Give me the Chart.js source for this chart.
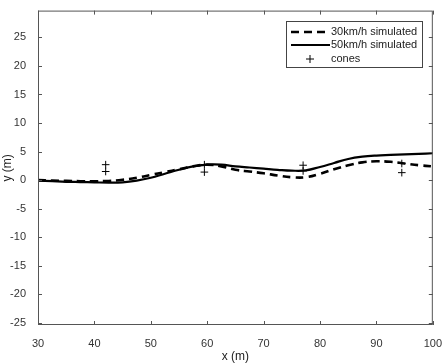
<!DOCTYPE html>
<html>
<head>
<meta charset="utf-8">
<script src="https://cdn.jsdelivr.net/npm/chart.js@4.4.1/dist/chart.umd.min.js"></script>
<style>
  html, body { margin: 0; padding: 0; background: #fff; }
  #wrap { width: 446px; height: 364px; }
</style>
</head>
<body>
<div id="wrap"><canvas id="pathChart" width="446" height="364"></canvas></div>
<script>
const xValues = [30, 32.5, 35, 37.5, 40, 42.5, 45, 47.5, 50, 52.5, 55, 57.5, 60, 62.5, 65,
  67.5, 70, 72.5, 75, 77.5, 80, 82.5, 85, 87.5, 90, 92.5, 95, 97.5, 100];
const sim30 = [0, -0.1, -0.15, -0.2, -0.2, -0.15, 0.05, 0.4, 0.9, 1.4, 1.9, 2.4, 2.7, 2.4, 1.8,
  1.5, 1.2, 0.8, 0.5, 0.5, 1.1, 1.9, 2.6, 3.1, 3.3, 3.2, 2.9, 2.6, 2.4];
const sim50 = [-0.1, -0.2, -0.3, -0.35, -0.4, -0.45, -0.4, -0.1, 0.4, 1.1, 1.8, 2.4, 2.7, 2.7, 2.4,
  2.2, 2.0, 1.8, 1.65, 1.7, 2.3, 3.0, 3.7, 4.1, 4.3, 4.4, 4.5, 4.6, 4.7];
const coneX = [42, 42, 59.5, 59.5, 77, 77, 94.5, 94.5];
const coneY = [2.7, 1.5, 2.7, 1.4, 2.6, 1.6, 2.9, 1.3];
const xTicks = [30, 40, 50, 60, 70, 80, 90, 100];
const yTicks = [-25, -20, -15, -10, -5, 0, 5, 10, 15, 20, 25];

const FONT = "'Liberation Sans', Arial, sans-serif";

function toPoints(xs, ys) {
  return xs.map((x, i) => ({ x: x, y: ys[i] }));
}

// box, inward tick marks and the boxed legend, drawn like the original figure
const frameAndLegend = {
  id: "frameAndLegend",
  afterDraw(chart) {
    const ctx = chart.ctx;
    const a = chart.chartArea;
    const xs = chart.scales.x;
    const ys = chart.scales.y;
    ctx.save();
    ctx.strokeStyle = "#555";
    ctx.lineWidth = 1;
    ctx.strokeRect(a.left + 0.5, a.top + 0.5, a.right - a.left - 1, a.bottom - a.top - 1);
    ctx.beginPath();
    xTicks.forEach((v) => {
      const px = Math.round(xs.getPixelForValue(v)) + 0.5;
      ctx.moveTo(px, a.bottom); ctx.lineTo(px, a.bottom - 4);
      ctx.moveTo(px, a.top); ctx.lineTo(px, a.top + 4);
    });
    yTicks.forEach((v) => {
      const py = Math.round(ys.getPixelForValue(v)) + 0.5;
      ctx.moveTo(a.left, py); ctx.lineTo(a.left + 4, py);
      ctx.moveTo(a.right, py); ctx.lineTo(a.right - 4, py);
    });
    ctx.stroke();

    // legend
    const bx = 286, by = 21, bw = 136, bh = 46;
    ctx.fillStyle = "#fff";
    ctx.fillRect(bx, by, bw, bh);
    ctx.strokeStyle = "#444";
    ctx.strokeRect(bx + 0.5, by + 0.5, bw, bh);
    const rows = [32, 45, 59];
    chart.data.datasets.forEach((ds, i) => {
      const y = rows[i];
      ctx.strokeStyle = "#000";
      if (ds.showLine === false) {
        ctx.lineWidth = 1;
        ctx.setLineDash([]);
        ctx.beginPath();
        ctx.moveTo(306, y); ctx.lineTo(314, y);
        ctx.moveTo(310, y - 4); ctx.lineTo(310, y + 4);
        ctx.stroke();
      } else {
        ctx.lineWidth = ds.borderWidth;
        ctx.setLineDash(ds.borderDash || []);
        ctx.beginPath();
        ctx.moveTo(291, y); ctx.lineTo(330, y);
        ctx.stroke();
      }
      ctx.setLineDash([]);
      ctx.fillStyle = "#222";
      ctx.font = "11px " + FONT;
      ctx.textBaseline = "middle";
      ctx.textAlign = "left";
      ctx.fillText(ds.label, 331, y);
    });
    ctx.restore();
  }
};

new Chart(document.getElementById("pathChart"), {
  type: "line",
  data: {
    datasets: [
      {
        label: "30km/h simulated",
        data: toPoints(xValues, sim30),
        borderColor: "#000",
        borderWidth: 2.6,
        borderDash: [8, 5],
        pointRadius: 0,
        tension: 0.4,
        fill: false
      },
      {
        label: "50km/h simulated",
        data: toPoints(xValues, sim50),
        borderColor: "#000",
        borderWidth: 2.2,
        pointRadius: 0,
        tension: 0.4,
        fill: false
      },
      {
        label: "cones",
        data: toPoints(coneX, coneY),
        showLine: false,
        pointStyle: "cross",
        pointRadius: 3.8,
        pointBorderWidth: 1,
        pointBorderColor: "#000",
        borderColor: "#000"
      }
    ]
  },
  options: {
    responsive: false,
    animation: false,
    devicePixelRatio: 1,
    layout: { padding: { top: 9, right: 12, left: 0, bottom: 0 } },
    plugins: {
      legend: { display: false },
      tooltip: { enabled: false }
    },
    scales: {
      x: {
        type: "linear",
        min: 30,
        max: 100,
        afterBuildTicks: (scale) => { scale.ticks = xTicks.map((v) => ({ value: v })); },
        afterFit: (scale) => { scale.height = 39; },
        grid: { display: false },
        border: { display: false },
        ticks: { color: "#333", font: { family: FONT, size: 11 }, padding: 4, maxRotation: 0 },
        title: { display: true, text: "x (m)", color: "#222", font: { family: FONT, size: 12 }, padding: { top: 2, bottom: 0 } }
      },
      y: {
        type: "linear",
        min: -25.4,
        max: 29.7,
        afterBuildTicks: (scale) => { scale.ticks = yTicks.map((v) => ({ value: v })); },
        afterFit: (scale) => { scale.width = 38; },
        grid: { display: false },
        border: { display: false },
        ticks: { color: "#333", font: { family: FONT, size: 11 }, padding: 4 },
        title: { display: true, text: "y (m)", color: "#222", font: { family: FONT, size: 12 }, padding: { top: 0, bottom: 0 } }
      }
    }
  },
  plugins: [frameAndLegend]
});
</script>
</body>
</html>
